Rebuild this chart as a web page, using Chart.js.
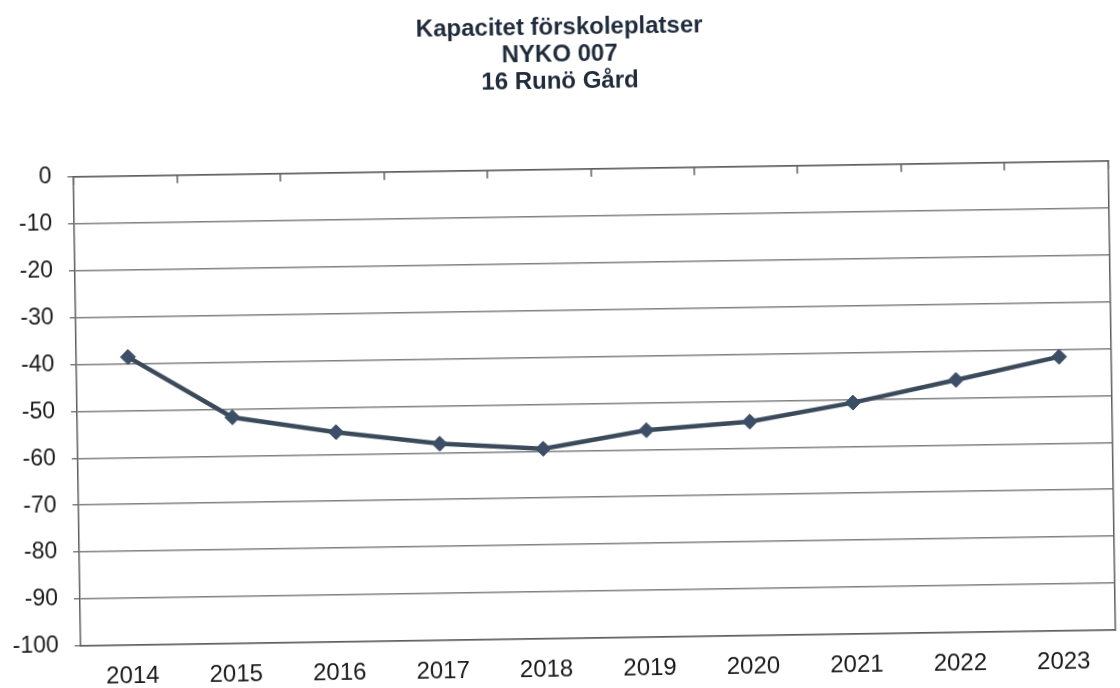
<!DOCTYPE html>
<html>
<head>
<meta charset="utf-8">
<script src="https://cdn.jsdelivr.net/npm/chart.js@4/dist/chart.umd.min.js"></script>
<style>
  html, body { margin: 0; padding: 0; background: #ffffff; }
  #wrap { width: 1120px; height: 688px; position: relative; overflow: hidden; background: #ffffff; }
  #c { position: absolute; left: 0; top: 0; transform-origin: 595px 403px; transform: rotate(-0.88deg); }
</style>
</head>
<body>
<div id="wrap"><canvas id="c" width="1120" height="688"></canvas></div>
<script>
const categories = ['2014', '2015', '2016', '2017', '2018', '2019', '2020', '2021', '2022', '2023'];
const capacity = [-38.6, -51.8, -55.3, -58.1, -59.5, -55.9, -54.4, -50.7, -46.2, -41.6];
const titleLines = ['Kapacitet förskoleplatser', 'NYKO 007', '16 Runö Gård'];
const yMin = -100;
const yMax = 0;
const yStep = 10;

const axisGray = '#5e5e5e';
const gridGray = '#808080';
const lineColor = '#3b4a5b';

new Chart(document.getElementById('c'), {
  type: 'line',
  data: {
    labels: categories,
    datasets: [{
      data: capacity,
      borderColor: lineColor,
      backgroundColor: lineColor,
      borderWidth: 4.5,
      pointStyle: 'rectRot',
      pointRadius: 7.5,
      pointBackgroundColor: '#3c4f66',
      pointBorderColor: '#3c4f66',
      pointBorderWidth: 1,
      tension: 0,
      fill: false
    }]
  },
  options: {
    responsive: false,
    animation: false,
    devicePixelRatio: 1,
    layout: { padding: { left: 10, right: 0, top: 0, bottom: 0 } },
    plugins: {
      legend: { display: false },
      tooltip: { enabled: false },
      title: {
        display: true,
        text: titleLines,
        color: '#1f2b3b',
        font: { family: '"Liberation Sans", Arial, sans-serif', size: 24, weight: 'bold', lineHeight: 1.12 },
        padding: { top: 14, bottom: 74 }
      }
    },
    scales: {
      x: {
        type: 'category',
        position: 'bottom',
        offset: true,
        grid: { display: true, drawOnChartArea: false, drawTicks: false },
        border: { display: true, color: axisGray, width: 1.5 },
        ticks: {
          color: '#1a1a1a',
          padding: 17,
          maxRotation: 0,
          autoSkip: false,
          font: { family: '"Liberation Sans", Arial, sans-serif', size: 24 }
        },
        afterFit: s => { s.height = 50; }
      },
      x2: {
        type: 'category',
        position: 'top',
        labels: categories,
        offset: true,
        grid: { display: true, offset: true, drawOnChartArea: false, drawTicks: true, tickLength: -8, color: axisGray, lineWidth: 1.5 },
        border: { display: true, color: axisGray, width: 1.5 },
        ticks: { display: false },
        afterFit: s => { s.height = 0; }
      },
      y: {
        min: yMin,
        max: yMax,
        position: 'left',
        ticks: {
          stepSize: yStep,
          color: '#1a1a1a',
          padding: 16,
          font: { family: '"Liberation Sans", Arial, sans-serif', size: 23 }
        },
        grid: { color: gridGray, lineWidth: 1.5, tickLength: 6, drawTicks: true },
        border: { display: true, color: axisGray, width: 1.5 },
        afterFit: s => { s.width = 67; }
      },
      y2: {
        min: yMin,
        max: yMax,
        position: 'right',
        display: true,
        ticks: { display: false },
        grid: { display: true, drawOnChartArea: false, drawTicks: false },
        border: { display: true, color: axisGray, width: 1.5 },
        afterFit: s => { s.width = 6; }
      }
    }
  }
});
</script>
</body>
</html>
